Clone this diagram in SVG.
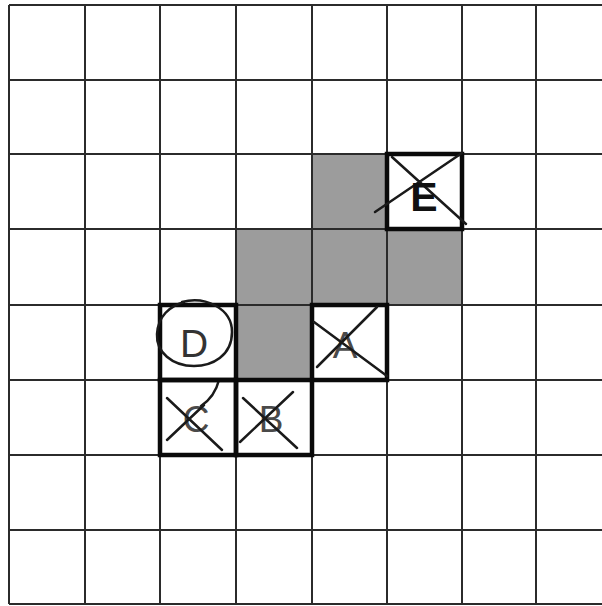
<svg xmlns="http://www.w3.org/2000/svg" width="602" height="606" viewBox="0 0 602 606">
<style>
.grid{stroke:#2b2b2b;stroke-width:2;fill:none}
.shade{fill:#9c9c9c}
.box{fill:none;stroke:#0a0a0a;stroke-width:4.5}
.pen{fill:none;stroke:#1a1a1a;stroke-width:2.5;stroke-linecap:round}
.lbl{font-family:"Liberation Sans",Arial,sans-serif;text-anchor:middle}
.faint{fill:#4a4a4a;font-size:37px}
</style>
<rect width="602" height="606" fill="#ffffff"/>
<g id="shaded">
<rect class="shade" x="312" y="154" width="75" height="75"/>
<rect class="shade" x="236" y="229" width="226" height="76"/>
<rect class="shade" x="236" y="305" width="76" height="75"/>
</g>
<g id="grid" class="grid">
<path d="M9 5V604M85 5V604M160 5V604M236 5V604M312 5V604M387 5V604M462 5V604M536 5V604"/>
<path d="M9 5H602M9 80H602M9 154H602M9 229H602M9 305H602M9 380H602M9 455H602M9 530H602M9 604H602"/>
</g>
<g id="node-E">
<rect class="box" x="387" y="154" width="75" height="75"/>
<path class="pen" d="M392 157L466 224M375 212L462 153"/>
<text class="lbl" x="424" y="211" font-size="41" font-weight="bold" fill="#111">E</text>
</g>
<g id="node-D">
<rect class="box" x="160" y="305" width="76" height="75"/>
<text class="lbl" x="194" y="357" font-size="39" fill="#333">D</text>
<path class="pen" d="M182 302C205 296 232 308 232 332C232 356 212 366 194 366C172 366 156 352 157 334C158 316 170 306 184 302M219 380C216 392 210 400 201 406"/>
</g>
<g id="node-A">
<rect class="box" x="312" y="305" width="75" height="75"/>
<text class="lbl faint" x="345" y="358">A</text>
<path class="pen" d="M314 322L387 376M317 367L377 307"/>
</g>
<g id="node-C">
<rect class="box" x="160" y="380" width="76" height="75"/>
<text class="lbl faint" x="196" y="432">C</text>
<path class="pen" d="M167 398L222 450M167 440L204 405"/>
</g>
<g id="node-B">
<rect class="box" x="236" y="380" width="76" height="75"/>
<text class="lbl faint" x="271" y="432">B</text>
<path class="pen" d="M243 398L297 448M240 442L293 392"/>
</g>
</svg>
